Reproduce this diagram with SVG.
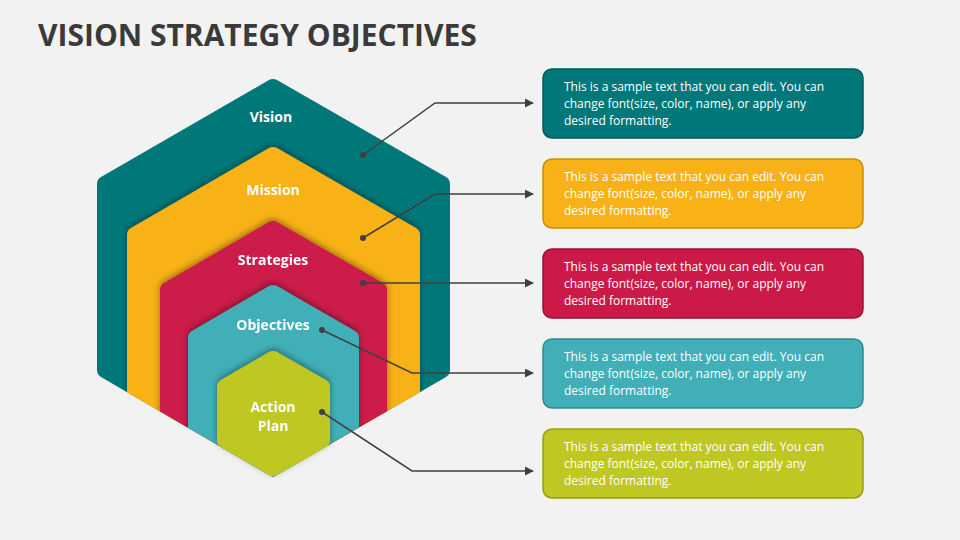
<svg xmlns="http://www.w3.org/2000/svg" width="960" height="540" viewBox="0 0 960 540">
<defs>
<style>
.lbl{font-family:"Open Sans","Liberation Sans",sans-serif;font-weight:700;font-size:14px;fill:#fff;text-anchor:middle}
.bt{font-family:"Open Sans","Liberation Sans",sans-serif;font-size:12px;fill:#fff}
.con{fill:none;stroke:#404040;stroke-width:1.5}
.sh{stroke-linejoin:round;stroke-width:16}
</style>
<marker id="ar" viewBox="0 0 10 10" refX="9" refY="5" markerWidth="6" markerHeight="6" orient="auto"><path d="M0,0L10,5L0,10z" fill="#404040"/></marker>
<filter id="ds" x="-20%" y="-20%" width="140%" height="140%"><feDropShadow dx="0" dy="-2" stdDeviation="3" flood-color="#000" flood-opacity="0.4"/></filter>
<clipPath id="cl"><polygon points="273,78 450,180 450,375 273,477 97,375 97,180" /></clipPath>
</defs>
<rect width="960" height="540" fill="#F2F2F2"/>
<text x="38" y="46" font-family="Open Sans,Liberation Sans,sans-serif" font-weight="700" font-size="30" fill="#3A3A3A">VISION STRATEGY OBJECTIVES</text>
<g id="vision"><polygon class="sh" points="273,87 442,184 442,370 273,468 105,370 105,184" fill="#00787A" stroke="#00787A"/><text class="lbl" x="271" y="122">Vision</text></g>
<g clip-path="url(#cl)">
<g id="mission" filter="url(#ds)"><polygon class="sh" points="273,155 412,235 412,560 135,560 135,235" fill="#F8B218" stroke="#F8B218"/><text class="lbl" x="273" y="195">Mission</text></g>
<g id="strategies" filter="url(#ds)"><polygon class="sh" points="273,229 379,290 379,560 168,560 168,290" fill="#CC1A48" stroke="#CC1A48"/><text class="lbl" x="273" y="265">Strategies</text></g>
<g id="objectives" filter="url(#ds)"><polygon class="sh" points="273,293 351,338 351,560 196,560 196,338" fill="#41AFB8" stroke="#41AFB8"/><text class="lbl" x="273" y="330">Objectives</text></g>
</g>
<g id="action" filter="url(#ds)"><polygon class="sh" points="273,359 322,387 322,440 273,468 225,440 225,387" fill="#BFC822" stroke="#BFC822"/><text class="lbl" x="273" y="412">Action</text><text class="lbl" x="273" y="431">Plan</text></g>
<g id="connectors">
<polyline class="con" points="363,155 435,103 533,103" marker-end="url(#ar)"/>
<polyline class="con" points="363,238 435,194 533,194" marker-end="url(#ar)"/>
<polyline class="con" points="363,283 533,283" marker-end="url(#ar)"/>
<polyline class="con" points="322,330 412,373 533,373" marker-end="url(#ar)"/>
<polyline class="con" points="322,412 412,471 533,471" marker-end="url(#ar)"/>
<circle cx="363" cy="155" r="3" fill="#404040"/><circle cx="363" cy="238" r="3" fill="#404040"/><circle cx="363" cy="283" r="3" fill="#404040"/><circle cx="322" cy="330" r="3" fill="#404040"/><circle cx="322" cy="412" r="3" fill="#404040"/>
</g>
<g id="box1"><rect x="543" y="69" width="320" height="69" rx="9" fill="#00787A" stroke="#005a5c" stroke-width="1.5"/><text class="bt" x="564" y="91">This is a sample text that you can edit. You can</text><text class="bt" x="564" y="108">change font(size, color, name), or apply any</text><text class="bt" x="564" y="125">desired formatting.</text></g>
<g id="box2"><rect x="543" y="159" width="320" height="69" rx="9" fill="#F8B218" stroke="#c98d0a" stroke-width="1.5"/><text class="bt" x="564" y="181">This is a sample text that you can edit. You can</text><text class="bt" x="564" y="198">change font(size, color, name), or apply any</text><text class="bt" x="564" y="215">desired formatting.</text></g>
<g id="box3"><rect x="543" y="249" width="320" height="69" rx="9" fill="#CC1A48" stroke="#9c1236" stroke-width="1.5"/><text class="bt" x="564" y="271">This is a sample text that you can edit. You can</text><text class="bt" x="564" y="288">change font(size, color, name), or apply any</text><text class="bt" x="564" y="305">desired formatting.</text></g>
<g id="box4"><rect x="543" y="339" width="320" height="69" rx="9" fill="#41AFB8" stroke="#2f8a91" stroke-width="1.5"/><text class="bt" x="564" y="361">This is a sample text that you can edit. You can</text><text class="bt" x="564" y="378">change font(size, color, name), or apply any</text><text class="bt" x="564" y="395">desired formatting.</text></g>
<g id="box5"><rect x="543" y="429" width="320" height="69" rx="9" fill="#BFC822" stroke="#979e14" stroke-width="1.5"/><text class="bt" x="564" y="451">This is a sample text that you can edit. You can</text><text class="bt" x="564" y="468">change font(size, color, name), or apply any</text><text class="bt" x="564" y="485">desired formatting.</text></g>
</svg>
